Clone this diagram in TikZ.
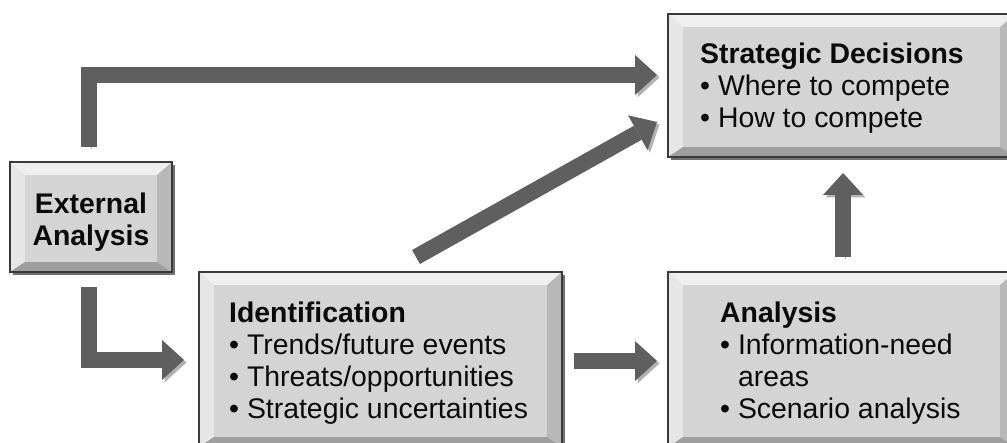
\documentclass[tikz,border=0pt]{standalone}
\usepackage{fontspec}
\setmainfont{Liberation Sans}
\usetikzlibrary{calc,arrows.meta}
\definecolor{arrowc}{HTML}{5F5F5F}
\definecolor{ashadowc}{HTML}{B2B2B2}
\definecolor{facec}{HTML}{D4D4D4}
\definecolor{bevtopc}{HTML}{EFEFEF}
\definecolor{bevleftc}{HTML}{E6E6E6}
\definecolor{bevrightc}{HTML}{B8B8B8}
\definecolor{bevbotc}{HTML}{9E9E9E}
\definecolor{borderc}{HTML}{3A3A3A}
\definecolor{bshadowc}{HTML}{707070}
\definecolor{textc}{HTML}{0A0A0A}
\newcommand\tstrut{\rule{0pt}{21pt}}
\newcommand\bevbox[5]{%
  \fill[bshadowc] (#2+3,#3+3) rectangle (#4+3,#5+3);
  \fill[bevtopc] (#2,#3) rectangle (#4,#5);
  \fill[bevleftc] (#2,#3) -- (#2+15,#3+13) -- (#2+15,#5-10) -- (#2,#5) -- cycle;
  \fill[bevrightc] (#4,#3) -- (#4-15,#3+13) -- (#4-15,#5-10) -- (#4,#5) -- cycle;
  \fill[bevbotc] (#2,#5) -- (#2+15,#5-10) -- (#4-15,#5-10) -- (#4,#5) -- cycle;
  \fill[facec] (#2+15,#3+13) rectangle (#4-15,#5-10);
  \node[boxframe, minimum width=#4-#2, minimum height=#5-#3, anchor=north west] (#1) at (#2,#3) {};
}
\begin{document}
\begin{tikzpicture}[x=1pt,y=-1pt,
  boxframe/.style={draw=borderc, line width=1.2pt, inner sep=0pt, outer sep=0pt},
  txt/.style={inner sep=0pt, align=left, text=textc, font=\fontsize{28.4}{32}\selectfont},
  fatarrow/.style={line width=16pt, draw=arrowc, line join=miter,
    -{Triangle[width=40pt,length=22pt,line width=0pt]},
    preaction={draw=ashadowc, transform canvas={shift={(2.5pt,-2.5pt)}}}}]
\useasboundingbox (0,0) rectangle (1007,443);
\clip (0,0) rectangle (1007,443);
\fill[white] (0,0) rectangle (1007,443);

\bevbox{ext}{10}{162}{172}{272}
\bevbox{sd}{668}{14}{1015}{157}
\bevbox{ident}{199}{272}{562}{447}
\bevbox{ana}{668}{272}{1015}{447}

\node[txt, align=center, anchor=north] (extt) at ($(ext.north)+(0,30)$)
  {\tstrut\textbf{External}\\\textbf{Analysis}};
\node[txt, anchor=north west] (sdt) at ($(sd.north west)+(32,28)$)
  {\tstrut\textbf{Strategic Decisions}\\• Where to compete\\• How to compete};
\node[txt, anchor=north west] (identt) at ($(ident.north west)+(30,29)$)
  {\tstrut\textbf{Identification}\\• Trends/future events\\• Threats/opportunities\\• Strategic uncertainties};
\node[txt, anchor=north west] (anat) at ($(ana.north west)+(52,29)$)
  {\tstrut\textbf{Analysis}\\• Information-need\\\hphantom{• }areas\\• Scenario analysis};

\coordinate (a1s) at ($(ext.north)+(-2,-15)$);
\coordinate (a1e) at ($(sd.west)+(-11,-10.5)$);
\coordinate (a2s) at ($(ext.south)+(-2,15)$);
\coordinate (a2e) at ($(ident.west)+(-15,0.5)$);
\coordinate (a3s) at ($(ident.north)+(35.5,-15)$);
\coordinate (a3e) at ($(sd.south west)+(-11,-35)$);
\coordinate (a4s) at ($(ident.east)+(12,1.5)$);
\coordinate (a4e) at ($(ana.west)+(-11,1.5)$);
\coordinate (a5s) at ($(ana.north)+(1.5,-15)$);
\coordinate (a5e) at ($(sd.south)+(1.5,16)$);

\draw[fatarrow] (a1s) |- (a1e);
\draw[fatarrow] (a2s) |- (a2e);
\draw[fatarrow] (a3s) -- (a3e);
\draw[fatarrow] (a4s) -- (a4e);
\draw[fatarrow] (a5s) -- (a5e);
\end{tikzpicture}
\end{document}
